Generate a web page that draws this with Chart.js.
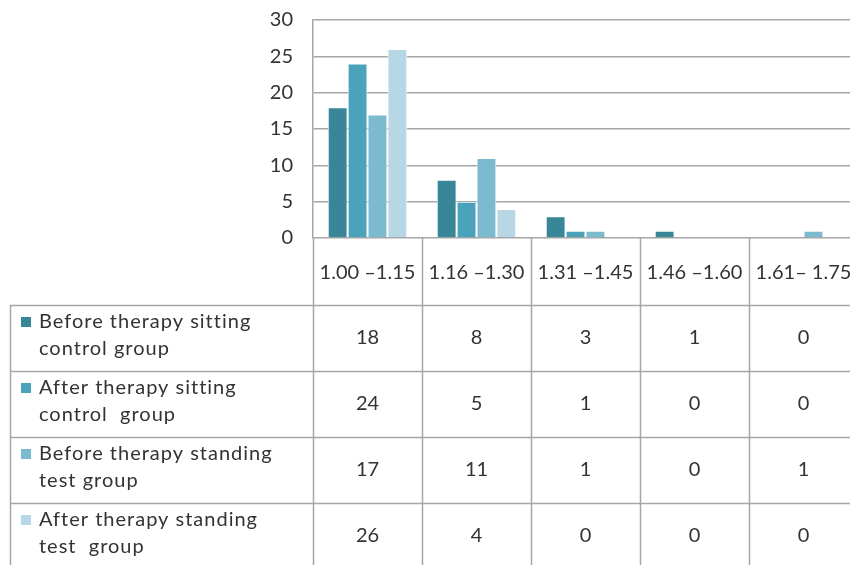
<!DOCTYPE html>
<html>
<head>
<meta charset="utf-8">
<script src="https://cdn.jsdelivr.net/npm/chart.js@4.4.1/dist/chart.umd.min.js"></script>
<style>
  html, body { margin: 0; padding: 0; background: #fff; overflow: hidden; width: 850px; height: 565px; }
  canvas { display: block; }
</style>
</head>
<body>
<canvas id="chart" width="860" height="565"></canvas>
<script>
const categories = ['1.00 \u20131.15', '1.16 \u20131.30', '1.31 \u20131.45', '1.46 \u20131.60', '1.61\u2013 1.75'];
const seriesNames = [
    ['Before therapy sitting', 'control group'],
    ['After therapy sitting', 'control  group'],
    ['Before therapy standing', 'test group'],
    ['After therapy standing', 'test  group']
];
const beforeSitting = [18, 8, 3, 1, 0];
const afterSitting = [24, 5, 1, 0, 0];
const beforeStanding = [17, 11, 1, 0, 1];
const afterStanding = [26, 4, 0, 0, 0];
const yTicks = [0, 5, 10, 15, 20, 25, 30];

const seriesColors = ['#3a8699', '#4aa3ba', '#7cbacf', '#b6d7e3'];
const allSeries = [beforeSitting, afterSitting, beforeStanding, afterStanding];
const gridColor = '#a6a6a6';
const textColor = '#333333';
const font = 'Lato, "Open Sans", sans-serif';

// Excel style data table under the plot
const dataTable = {
    id: 'dataTable',
    afterDraw(chart) {
        const ctx = chart.ctx;
        const area = chart.chartArea;
        const catW = (area.right - area.left) / categories.length;
        const headTop = area.bottom;
        const headBottom = 305;
        const rowH = 66;
        const legendLeft = 10;
        const bottom = chart.height;

        ctx.save();
        ctx.strokeStyle = gridColor;
        ctx.lineWidth = 1.5;

        // vertical lines
        for (let i = 0; i <= categories.length; i++) {
            const x = Math.round(area.left + i * catW) + 0.5;
            ctx.beginPath();
            ctx.moveTo(x, headTop);
            ctx.lineTo(x, bottom);
            ctx.stroke();
        }
        ctx.beginPath();
        ctx.moveTo(legendLeft + 0.5, headBottom);
        ctx.lineTo(legendLeft + 0.5, bottom);
        ctx.stroke();

        // horizontal lines
        for (let r = 0; r < seriesNames.length; r++) {
            const y = headBottom + r * rowH + 0.5;
            ctx.beginPath();
            ctx.moveTo(legendLeft, y);
            ctx.lineTo(chart.width, y);
            ctx.stroke();
        }

        ctx.fillStyle = textColor;
        ctx.font = '20px ' + font;
        ctx.textAlign = 'center';
        ctx.textBaseline = 'middle';

        // category labels
        categories.forEach((c, i) => {
            ctx.fillText(c, area.left + (i + 0.5) * catW, (headTop + headBottom) / 2 + 1);
        });

        // rows
        allSeries.forEach((vals, r) => {
            const top = headBottom + r * rowH;
            ctx.textAlign = 'center';
            ctx.fillStyle = textColor;
            ctx.letterSpacing = '0px';
            vals.forEach((v, i) => {
                ctx.fillText(String(v), area.left + (i + 0.5) * catW, top + rowH / 2);
            });
            ctx.fillStyle = seriesColors[r];
            ctx.fillRect(21, top + 12, 10, 10);
            ctx.fillStyle = textColor;
            ctx.textAlign = 'left';
            ctx.letterSpacing = '1px';
            ctx.fillText(seriesNames[r][0], 39, top + 17);
            ctx.fillText(seriesNames[r][1], 39, top + 44);
        });
        ctx.restore();
    }
};

new Chart(document.getElementById('chart'), {
    type: 'bar',
    data: {
        labels: categories,
        datasets: allSeries.map((vals, i) => ({
            label: seriesNames[i].join(' '),
            data: vals,
            backgroundColor: seriesColors[i],
            borderColor: '#ffffff',
            borderWidth: { top: 1, left: 1, right: 1, bottom: 0 },
            borderSkipped: 'bottom',
            categoryPercentage: 0.73,
            barPercentage: 1.0
        }))
    },
    options: {
        responsive: false,
        animation: false,
        layout: { padding: { top: 20, bottom: 327, left: 0, right: 2 } },
        plugins: {
            legend: { display: false },
            tooltip: { enabled: false }
        },
        scales: {
            x: { display: false },
            y: {
                min: 0,
                max: 30,
                afterBuildTicks: (scale) => { scale.ticks = yTicks.map(v => ({ value: v })); },
                afterFit: (scale) => {
                    scale.width = 313;
                    scale.paddingTop = 0;
                    scale.paddingBottom = 0;
                },
                grid: { color: gridColor, lineWidth: 1.5, drawTicks: false },
                border: { color: gridColor, width: 1.5 },
                ticks: {
                    padding: 20,
                    color: textColor,
                    font: { family: font, size: 20 }
                }
            }
        }
    },
    plugins: [dataTable]
});
</script>
</body>
</html>
